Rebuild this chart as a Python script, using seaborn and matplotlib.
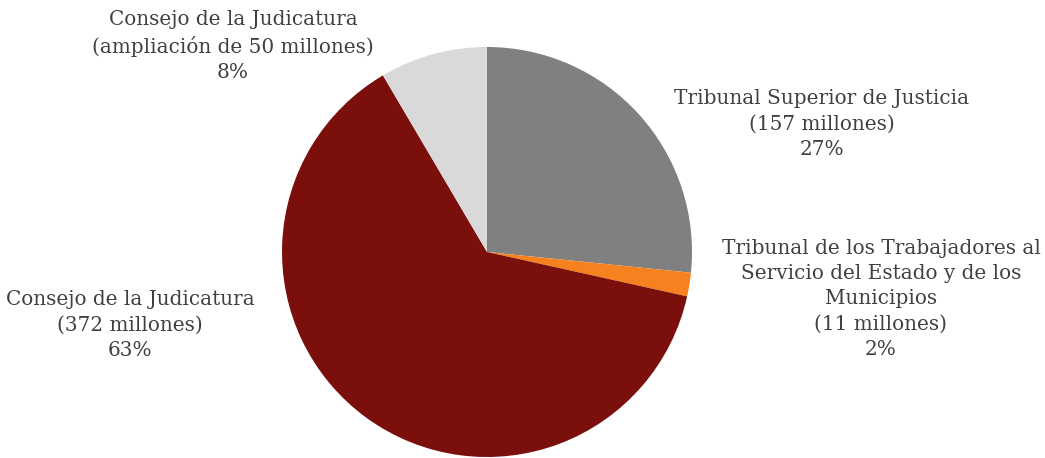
import matplotlib
matplotlib.use("Agg")
import matplotlib.pyplot as plt
import seaborn as sns

# Datos del gráfico (millones)
organos = ['Tribunal Superior de Justicia',
           'Tribunal de los Trabajadores al\nServicio del Estado y de los\nMunicipios',
           'Consejo de la Judicatura',
           'Consejo de la Judicatura\n(ampliación de 50 millones)']
montos = [157, 11, 372, 50]
porcentajes = ['27%', '2%', '63%', '8%']
montos_txt = ['(157 millones)', '(11 millones)', '(372 millones)', '']
colores = ['#808080', '#F5821F', '#7B0F0B', '#D9D9D9']

sns.set_theme(style='white')
plt.rcParams['font.family'] = ['DejaVu Serif']

fig = plt.figure(figsize=(10.45, 4.58), dpi=100)
ax = fig.add_axes([0, 0, 1, 1])

ax.pie(montos, colors=colores, startangle=90, counterclock=False,
       radius=1, wedgeprops={'linewidth': 0})

# escala: 1 unidad = 205 px, centro en (487, 252)
ax.set_xlim(-487 / 205, (1045 - 487) / 205)
ax.set_ylim(-(458 - 252) / 205, 252 / 205)
ax.set_aspect('equal')
ax.axis('off')

def px(x, y):
    return (x - 487) / 205, (252 - y) / 205

# posiciones de las etiquetas (centro del bloque, px)
pos = [(822, 124), (881, 299), (130, 325), (233, 46)]
for nombre, monto, pct, (x, y) in zip(organos, montos_txt, porcentajes, pos):
    partes = [nombre] + ([monto] if monto else []) + [pct]
    tx, ty = px(x, y)
    ax.text(tx, ty, '\n'.join(partes), ha='center', va='center',
            fontsize=14.4, color='#404040', linespacing=1.42)

plt.savefig('out.png', dpi=100)
